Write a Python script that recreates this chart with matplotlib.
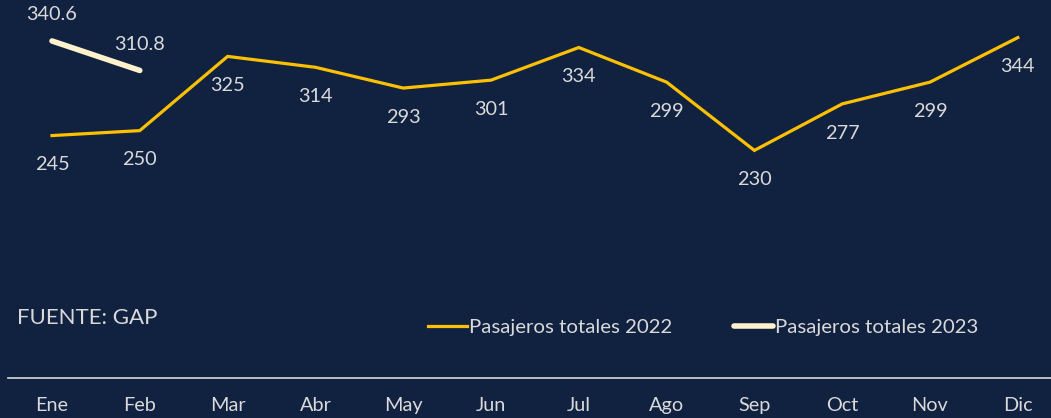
import matplotlib.pyplot as plt

months = ["Ene", "Feb", "Mar", "Abr", "May", "Jun", "Jul", "Ago", "Sep", "Oct", "Nov", "Dic"]
pax_2022 = [245, 250, 325, 314, 293, 301, 334, 299, 230, 277, 299, 344]
pax_2023 = [340.6, 310.8]

bg = "#112140"
txt = "#d9d9d9"
plt.rcParams["font.family"] = ["Lato", "DejaVu Sans"]

fig = plt.figure(figsize=(10.51, 4.18), dpi=100, facecolor=bg)
# category band = 87.8 px, first center at x=52
ax = fig.add_axes([8.1 / 1051, 40 / 418, 1053.6 / 1051, 378 / 418])
ax.set_facecolor(bg)

x22 = list(range(len(pax_2022)))
x23 = list(range(len(pax_2023)))
ax.plot(x22, pax_2022, color="#ffc000", lw=2.3, label="Pasajeros totales 2022", solid_joinstyle="miter")
ax.plot(x23, pax_2023, color="#fff2cc", lw=4, solid_capstyle="round", label="Pasajeros totales 2023")

for i, v in enumerate(pax_2022):
    ax.annotate(str(v), (i, v), xytext=(0, -21), textcoords="offset points",
                ha="center", va="center", color=txt, fontsize=14.3)
for i, v in enumerate(pax_2023):
    ax.annotate(f"{v:.1f}", (i, v), xytext=(0, 19), textcoords="offset points",
                ha="center", va="center", color=txt, fontsize=14.3)

ax.set_xlim(-0.5, 11.5)
ax.set_ylim(0, 382)
ax.set_yticks([])
ax.set_xticks(x22)
ax.set_xticklabels(months, color=txt, fontsize=14.3)
ax.tick_params(axis="x", length=0, pad=14)
for s in ["top", "right", "left"]:
    ax.spines[s].set_visible(False)
ax.spines["bottom"].set_color(txt)
ax.spines["bottom"].set_linewidth(1.2)

fig.text(17 / 1051, 1 - 318 / 418, "FUENTE: GAP", color=txt, fontsize=16, va="center", ha="left")

leg = fig.legend(loc="center left", bbox_to_anchor=(428 / 1051, 1 - 327 / 418), ncol=2,
                 frameon=False, fontsize=14.7, handlelength=1.9, handletextpad=0.12,
                 columnspacing=3.0, borderpad=0, borderaxespad=0, labelcolor=txt)

fig.savefig("out.png", dpi=100, facecolor=bg)
